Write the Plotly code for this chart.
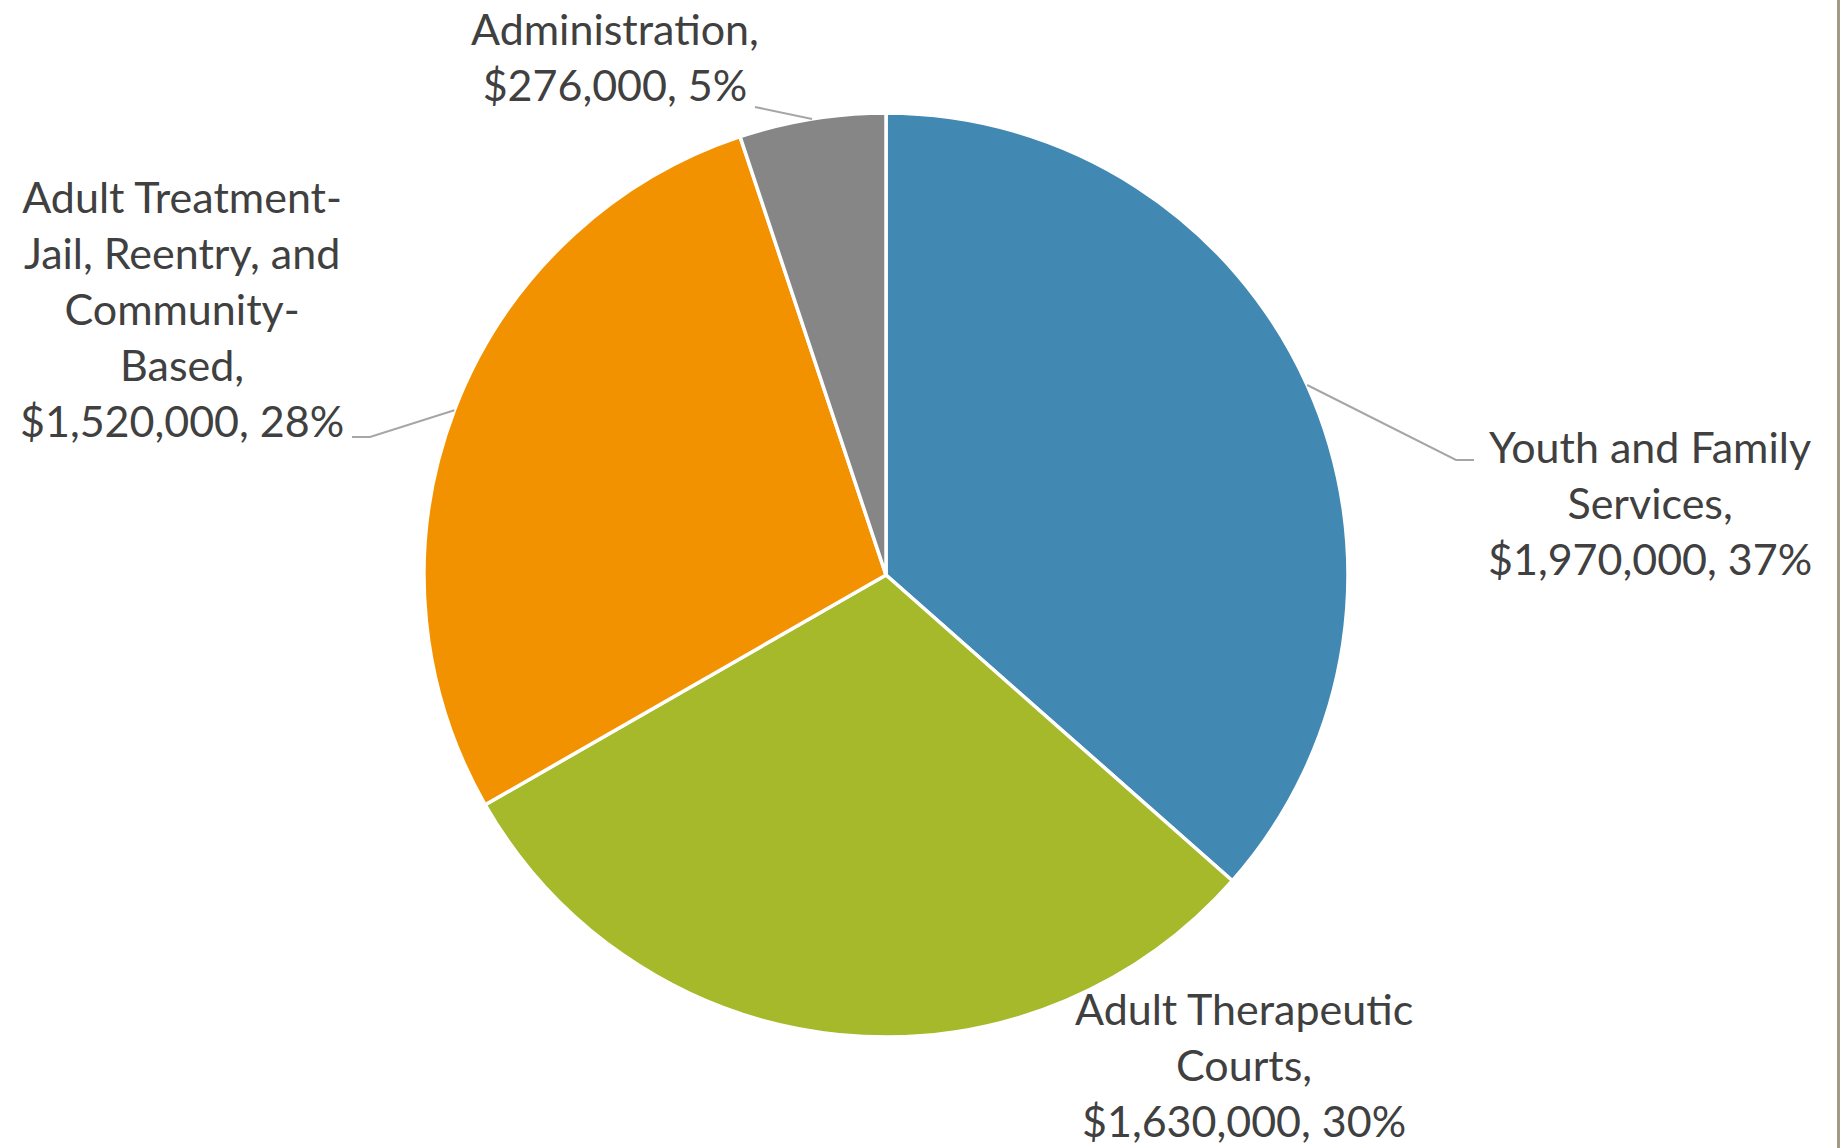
import math
import plotly.graph_objects as go

# ---- data ----
categories = ["Youth and Family Services", "Adult Therapeutic Courts",
              "Adult Treatment-Jail, Reentry, and Community-Based", "Administration"]
label_lines = [
    ["Youth and Family", "Services,"],
    ["Adult Therapeutic", "Courts,"],
    ["Adult Treatment-", "Jail, Reentry, and", "Community-", "Based,"],
    ["Administration,"],
]
values = [1970000, 1630000, 1520000, 276000]
colors = ["#4189B3", "#A6B92A", "#F39200", "#868686"]

W, H = 1841, 1148
CX, CY, R = 886, 575, 462  # pie geometry in window pixels


def px(x):
    return x / W


def py(y):
    return 1 - y / H


total = sum(values)
pcts = [v / total * 100 for v in values]

fig = go.Figure(go.Pie(
    labels=categories, values=values, sort=False, direction="clockwise", rotation=0,
    marker=dict(colors=colors, line=dict(color="white", width=3.5)),
    textinfo="none", showlegend=False,
    domain=dict(x=[px(CX - R), px(CX + R)], y=[py(CY + R), py(CY - R)]),
))

# label placements (center of text block, pixels) and leader-line elbow/end
label_pos = [(1650, 502), (1244, 1064), (182, 309), (615, 57)]
leaders = [[(1456, 460), (1474, 460)], None, [(370, 437), (352, 437)], [(755, 107)]]

annotations = []
shapes = []
cum = 0.0
for i, v in enumerate(values):
    mid = (cum + v / 2) / total * 2 * math.pi
    cum += v
    text = "<br>".join(label_lines[i] + [f"${v:,.0f}, {pcts[i]:.0f}%"])
    lx, ly = label_pos[i]
    annotations.append(dict(
        x=px(lx), y=py(ly), xref="paper", yref="paper", text=text, showarrow=False,
        align="center", xanchor="center", yanchor="middle",
        font=dict(family="Lato, Open Sans, sans-serif", size=43, color="#404040"),
    ))
    if leaders[i]:
        sx = CX + R * math.sin(mid)
        sy = CY - R * math.cos(mid)
        pts = [(sx, sy)] + leaders[i]
        path = "M " + " L ".join(f"{px(x)},{py(y)}" for x, y in pts)
        shapes.append(dict(type="path", path=path, xref="paper", yref="paper",
                           line=dict(color="#A6A6A6", width=2)))

# right frame line
shapes.append(dict(type="line", x0=px(1838.5), x1=px(1838.5), y0=0, y1=1,
                   xref="paper", yref="paper", line=dict(color="#A39A85", width=3)))

fig.update_layout(
    width=W, height=H, margin=dict(l=0, r=0, t=0, b=0),
    paper_bgcolor="white", plot_bgcolor="white",
    annotations=annotations, shapes=shapes,
)
fig.write_html("out.html", config={"displayModeBar": False},
               post_script="document.body.style.margin='0';document.body.style.overflow='hidden';")
